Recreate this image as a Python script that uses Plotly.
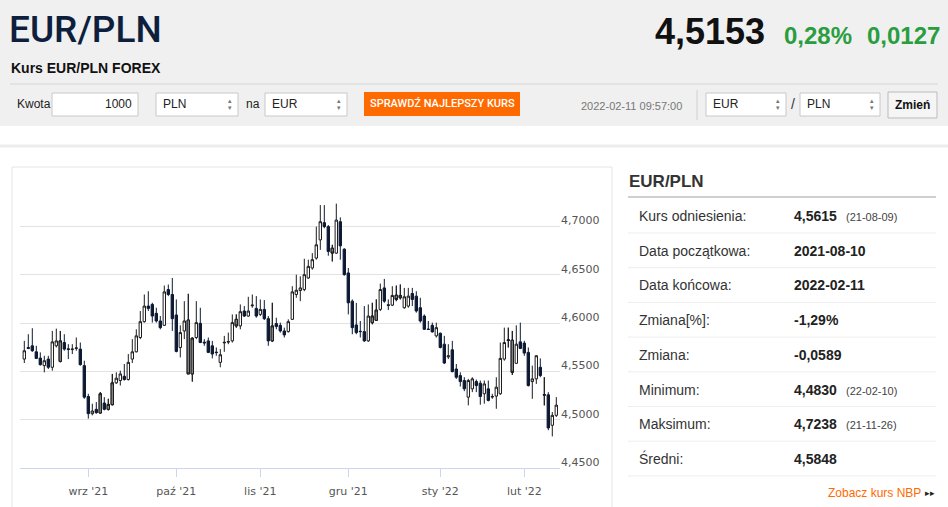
import plotly.graph_objects as go
import pandas as pd

# notowania EUR/PLN, dzienne swiece od 2021-08-10 do 2022-02-11 (dni robocze)
dates = pd.bdate_range("2021-08-10", "2022-02-11").strftime("%Y-%m-%d").tolist()

opens = [4.5630, 4.5750, 4.5767, 4.5705, 4.5640, 4.5562, 4.5630, 4.5545, 4.5767, 4.5606,
         4.5801, 4.5736, 4.5728, 4.5740, 4.5733, 4.5562, 4.5243, 4.5065, 4.5110, 4.5072,
         4.5175, 4.5110, 4.5158, 4.5384, 4.5408, 4.5452, 4.5418, 4.5630, 4.5705, 4.5853,
         4.6017, 4.6178, 4.6195, 4.6103, 4.6024, 4.5979, 4.6349, 4.6298, 4.6086, 4.5750,
         4.5921, 4.6034, 4.5476, 4.5853, 4.6000, 4.5805, 4.5818, 4.5767, 4.5702, 4.5596,
         4.5797, 4.5805, 4.5818, 4.6041, 4.5973, 4.6127, 4.6075, 4.6181, 4.6154, 4.6092,
         4.6144, 4.6048, 4.5818, 4.5997, 4.5979, 4.5921, 4.5914, 4.6041, 4.6298, 4.6339,
         4.6349, 4.6469, 4.6572, 4.6675, 4.6863, 4.7041, 4.7000, 4.6777, 4.6726, 4.7051,
         4.6767, 4.6521, 4.6229, 4.5983, 4.5918, 4.5914, 4.5818, 4.6007, 4.6031, 4.6144,
         4.6366, 4.6192, 4.6188, 4.6291, 4.6288, 4.6161, 4.6178, 4.6308, 4.6281, 4.6161,
         4.6075, 4.5941, 4.5979, 4.5870, 4.5897, 4.5784, 4.5652, 4.5726, 4.5527, 4.5459,
         4.5408, 4.5236, 4.5322, 4.5397, 4.5380, 4.5271, 4.5322, 4.5237, 4.5247, 4.5271,
         4.5630, 4.5822, 4.5825, 4.5586, 4.5808, 4.5795, 4.5699, 4.5397, 4.5425, 4.5545,
         4.5262, 4.5260, 4.4945, 4.5048]
highs = [4.5818, 4.5887, 4.5949, 4.5767, 4.5699, 4.5664, 4.5664, 4.5921, 4.5945, 4.5921,
         4.5887, 4.5784, 4.5784, 4.5853, 4.5801, 4.5613, 4.5271, 4.5168, 4.5185, 4.5288,
         4.5236, 4.5219, 4.5476, 4.5493, 4.5510, 4.5579, 4.5682, 4.5836, 4.5938, 4.6127,
         4.6298, 4.6332, 4.6212, 4.6161, 4.6075, 4.6390, 4.6401, 4.6469, 4.6247, 4.5979,
         4.6229, 4.6305, 4.5853, 4.6229, 4.6161, 4.5836, 4.5853, 4.5818, 4.5750, 4.5733,
         4.5870, 4.5904, 4.6092, 4.6092, 4.6195, 4.6178, 4.6274, 4.6298, 4.6281, 4.6247,
         4.6240, 4.6075, 4.6212, 4.6058, 4.6007, 4.5955, 4.6041, 4.6384, 4.6503, 4.6486,
         4.6668, 4.6658, 4.6726, 4.7000, 4.7223, 4.7223, 4.7017, 4.6812, 4.7238, 4.7096,
         4.6777, 4.6572, 4.6247, 4.6212, 4.6024, 4.6178, 4.6195, 4.6212, 4.6247, 4.6411,
         4.6459, 4.6247, 4.6384, 4.6390, 4.6401, 4.6366, 4.6366, 4.6366, 4.6332, 4.6264,
         4.6092, 4.6024, 4.6007, 4.6007, 4.5904, 4.5870, 4.5784, 4.5818, 4.5579, 4.5493,
         4.5442, 4.5425, 4.5442, 4.5418, 4.5408, 4.5408, 4.5408, 4.5271, 4.5442, 4.5801,
         4.5955, 4.5955, 4.5921, 4.5979, 4.6007, 4.5818, 4.5750, 4.5562, 4.5671, 4.5637,
         4.5442, 4.5288, 4.5082, 4.5236]
lows = [4.5589, 4.5733, 4.5705, 4.5630, 4.5562, 4.5493, 4.5527, 4.5510, 4.5750, 4.5596,
        4.5716, 4.5630, 4.5682, 4.5716, 4.5562, 4.5219, 4.5014, 4.5048, 4.5065, 4.5065,
        4.5099, 4.5099, 4.5151, 4.5373, 4.5356, 4.5408, 4.5408, 4.5589, 4.5699, 4.5836,
        4.6007, 4.6127, 4.6007, 4.6007, 4.5938, 4.5973, 4.6281, 4.5921, 4.5699, 4.5647,
        4.5836, 4.5476, 4.5397, 4.5836, 4.5795, 4.5767, 4.5692, 4.5637, 4.5664, 4.5545,
        4.5705, 4.5784, 4.5801, 4.5955, 4.5938, 4.6065, 4.6068, 4.6161, 4.6058, 4.6075,
        4.6034, 4.5767, 4.5808, 4.5938, 4.5904, 4.5853, 4.5904, 4.6034, 4.6264, 4.6229,
        4.6332, 4.6459, 4.6555, 4.6658, 4.6760, 4.6983, 4.6699, 4.6640, 4.6719, 4.6658,
        4.6493, 4.6092, 4.5887, 4.5887, 4.5853, 4.5808, 4.5808, 4.5990, 4.6024, 4.6127,
        4.6212, 4.6137, 4.6178, 4.6229, 4.6247, 4.6151, 4.6161, 4.6178, 4.6110, 4.6007,
        4.5932, 4.5932, 4.5904, 4.5853, 4.5740, 4.5579, 4.5630, 4.5493, 4.5425, 4.5346,
        4.5298, 4.5151, 4.5288, 4.5288, 4.5158, 4.5168, 4.5192, 4.5219, 4.5116, 4.5260,
        4.5613, 4.5750, 4.5466, 4.5579, 4.5733, 4.5664, 4.5346, 4.5219, 4.5373, 4.5442,
        4.5151, 4.4894, 4.4830, 4.5031]
closes = [4.5716, 4.5740, 4.5716, 4.5637, 4.5572, 4.5613, 4.5545, 4.5808, 4.5818, 4.5818,
          4.5733, 4.5730, 4.5733, 4.5745, 4.5572, 4.5236, 4.5065, 4.5092, 4.5075, 4.5271,
          4.5110, 4.5161, 4.5384, 4.5432, 4.5476, 4.5418, 4.5596, 4.5705, 4.5870, 4.6017,
          4.6178, 4.6154, 4.6075, 4.6024, 4.5955, 4.6325, 4.6298, 4.6048, 4.5709, 4.5904,
          4.6024, 4.5476, 4.5846, 4.6007, 4.5801, 4.5797, 4.5699, 4.5682, 4.5697, 4.5675,
          4.5803, 4.5811, 4.6007, 4.5973, 4.6120, 4.6075, 4.6127, 4.6188, 4.6075, 4.6144,
          4.6048, 4.5818, 4.5973, 4.5966, 4.5921, 4.5880, 4.6017, 4.6325, 4.6342, 4.6366,
          4.6503, 4.6589, 4.6658, 4.6812, 4.7051, 4.7000, 4.6743, 4.6726, 4.7068, 4.6801,
          4.6503, 4.6212, 4.5955, 4.5904, 4.5914, 4.5818, 4.6075, 4.6075, 4.6137, 4.6349,
          4.6229, 4.6185, 4.6288, 4.6247, 4.6264, 4.6274, 4.6281, 4.6247, 4.6127, 4.6024,
          4.5938, 4.5936, 4.5911, 4.5955, 4.5750, 4.5589, 4.5664, 4.5500, 4.5442, 4.5397,
          4.5322, 4.5408, 4.5425, 4.5356, 4.5243, 4.5373, 4.5202, 4.5242, 4.5339, 4.5637,
          4.5801, 4.5828, 4.5493, 4.5784, 4.5740, 4.5692, 4.5356, 4.5425, 4.5664, 4.5459,
          4.5258, 4.4918, 4.5048, 4.5153]

# swiece, ktore na oryginale maja szary korpus
grey_days = ["2021-08-23", "2021-09-06", "2021-09-08", "2021-09-09", "2021-10-06",
             "2021-10-07", "2021-10-22", "2021-11-04", "2021-11-25", "2021-12-09",
             "2021-12-10", "2021-12-17", "2021-12-20", "2022-01-26", "2022-01-27",
             "2022-02-08"]

month_ticks = ["2021-09-01", "2021-10-01", "2021-11-01", "2021-12-01", "2022-01-03", "2022-02-01"]
month_labels = ["wrz '21", "paź '21", "lis '21", "gru '21", "sty '22", "lut '22"]
price_ticks = [4.45, 4.50, 4.55, 4.60, 4.65, 4.70, 4.75]
price_labels = ["4,4500", "4,5000", "4,5500", "4,6000", "4,6500", "4,7000", ""]

stat_labels = ["Kurs odniesienia:", "Data początkowa:", "Data końcowa:", "Zmiana[%]:",
               "Zmiana:", "Minimum:", "Maksimum:", "Średni:"]
stat_values = ["4,5615", "2021-08-10", "2022-02-11", "-1,29%", "-0,0589", "4,4830", "4,7238", "4,5848"]
stat_dates = ["(21-08-09)", "", "", "", "", "(22-02-10)", "(21-11-26)", ""]

W, H = 948, 507
NAVY = "#0d1a33"
ARIAL = "Liberation Sans, Arial, sans-serif"


def px(x):
    return x / W


def py(y):
    return 1 - y / H


df = pd.DataFrame({"date": dates, "open": opens, "high": highs, "low": lows, "close": closes})
grey = df[df["date"].isin(grey_days)]

fig = go.Figure(go.Candlestick(
    x=df["date"], open=df["open"], high=df["high"], low=df["low"], close=df["close"],
    increasing=dict(fillcolor="white", line=dict(color="#1c1c1c", width=1)),
    decreasing=dict(fillcolor=NAVY, line=dict(color=NAVY, width=1)),
    whiskerwidth=0, showlegend=False, hoverinfo="x+y",
))
fig.add_trace(go.Candlestick(
    x=grey["date"], open=grey["open"], high=grey["high"], low=grey["low"], close=grey["close"],
    increasing=dict(fillcolor="#858585", line=dict(color="#1c1c1c", width=1)),
    decreasing=dict(fillcolor="#858585", line=dict(color="#1c1c1c", width=1)),
    whiskerwidth=0, showlegend=False, hoverinfo="skip",
))

shapes = []
ann = []


def box(x0, y0, x1, y1, fill, line="rgba(0,0,0,0)", lw=1):
    shapes.append(dict(type="rect", xref="paper", yref="paper", layer="below",
                       x0=px(x0), x1=px(x1), y0=py(y1), y1=py(y0),
                       fillcolor=fill, line=dict(color=line, width=lw)))


def hline(x0, x1, y, color, lw=1):
    shapes.append(dict(type="line", xref="paper", yref="paper", layer="below",
                       x0=px(x0), x1=px(x1), y0=py(y), y1=py(y), line=dict(color=color, width=lw)))


def text(x, y, s, size, color="#333", family=ARIAL, anchor="left", bold=False, weight=None):
    if bold:
        s = "<b>" + s + "</b>"
    f = dict(size=size, color=color, family=family)
    if weight:
        f["weight"] = weight
    ann.append(dict(xref="paper", yref="paper", x=px(x), y=py(y), text=s, showarrow=False,
                    xanchor=anchor, yanchor="middle", borderpad=0, font=f))


def select(x0, x1, label):
    box(x0, 93, x1, 116, "white", "#c8c8c8")
    text(x0 + 6, 104, label, 12, "#222")
    text(x1 - 8, 100, "▴", 7, "#777", anchor="center")
    text(x1 - 8, 108, "▾", 7, "#777", anchor="center")


# naglowek strony
box(0, 0, W, 126, "#f0f0f0")
text(8, 30, "EUR/PLN", 37, "#0e1f3d", "Roboto", weight=500)
text(10, 68, "Kurs EUR/PLN FOREX", 14, "#111", ARIAL, bold=True)
text(766, 32, "4,5153", 36, "#111", ARIAL, anchor="right", bold=True)
text(783, 35, "0,28%", 24, "#2a9d3f", ARIAL, bold=True)
text(866, 35, "0,0127", 24, "#2a9d3f", ARIAL, bold=True)
hline(10, 938, 84, "#d6d6d6")

text(16, 104, "Kwota", 12, "#222")
box(52, 93, 138, 116, "white", "#c8c8c8")
text(133, 104, "1000", 12, "#222", anchor="right")
select(156, 238, "PLN")
text(245, 104, "na", 12, "#222")
select(265, 347, "EUR")
box(364, 92, 520, 116, "#ff6a00")
text(442, 104, "SPRAWDŹ NAJLEPSZY KURS", 11, "white", "Roboto", anchor="center", weight=500)
text(683, 106, "2022-02-11 09:57:00", 11, "#777", anchor="right")
shapes.append(dict(type="line", xref="paper", yref="paper", layer="below",
                   x0=px(697), x1=px(697), y0=py(90), y1=py(120), line=dict(color="#d0d0d0", width=1)))
select(706, 786, "EUR")
text(793, 104, "/", 14, "#333", anchor="center")
select(800, 880, "PLN")
box(888, 92, 937, 118, "#f5f5f5", "#bbbbbb")
text(912, 105, "Zmień", 12, "#111", anchor="center", bold=True)

# ramki tresci
hline(0, W, 146, "#ececec", 3)
shapes.append(dict(type="rect", xref="paper", yref="paper", layer="below",
                   x0=px(12), x1=px(612), y0=py(510), y1=py(167),
                   fillcolor="rgba(0,0,0,0)", line=dict(color="#e6e6e6", width=1)))

# panel statystyk
text(628, 181, "EUR/PLN", 17, "#333", bold=True)
hline(628, 936, 197, "#cfcfcf", 2)
for i, (lab, val, dt) in enumerate(zip(stat_labels, stat_values, stat_dates)):
    yc = 216 + i * 34.7
    text(638, yc, lab, 14, "#333")
    text(793, yc, val, 14, "#222", bold=True)
    if dt:
        text(845, yc + 1, dt, 11, "#444")
    hline(628, 936, yc + 17, "#eeeeee", 1)
text(922, 493, "Zobacz kurs NBP", 12, "#ff6a00", anchor="right")
text(936, 493, "▸▸", 9, "#222", anchor="right")

fig.update_layout(
    width=W, height=H, margin=dict(l=0, r=0, t=0, b=0), autosize=False,
    paper_bgcolor="white", plot_bgcolor="rgba(0,0,0,0)",
    shapes=shapes, annotations=ann, showlegend=False, boxgap=0.15,
    xaxis=dict(
        domain=[px(20), px(560)], type="category", range=[-1.075, 133.925],
        categoryorder="array", categoryarray=dates,
        rangeslider=dict(visible=False), showgrid=False, zeroline=False,
        showline=True, linecolor="#ccd6eb", linewidth=1,
        ticks="outside", ticklen=8, tickcolor="#ccd6eb", ticklabelstandoff=4,
        tickvals=month_ticks, ticktext=month_labels,
        tickfont=dict(size=11, color="#555", family="DejaVu Sans"),
    ),
    yaxis=dict(
        domain=[py(468.3), py(178.3)], range=[4.45, 4.75], side="right",
        tickvals=price_ticks, ticktext=price_labels,
        showgrid=True, gridcolor="#e3e3e3", gridwidth=1, zeroline=False,
        ticks="", ticklabelshift=-6, ticklabelstandoff=0,
        tickfont=dict(size=11, color="#555", family="DejaVu Sans"),
    ),
)

# strona bez marginesow i bez przewijania, wykres dokladnie w oknie
page_js = ("document.documentElement.style.overflow='hidden';"
           "document.body.style.margin='0';"
           "document.body.style.height='507px';"
           "document.body.style.overflow='hidden';")
fig.write_html("out.html", config={"displayModeBar": False}, post_script=page_js)
